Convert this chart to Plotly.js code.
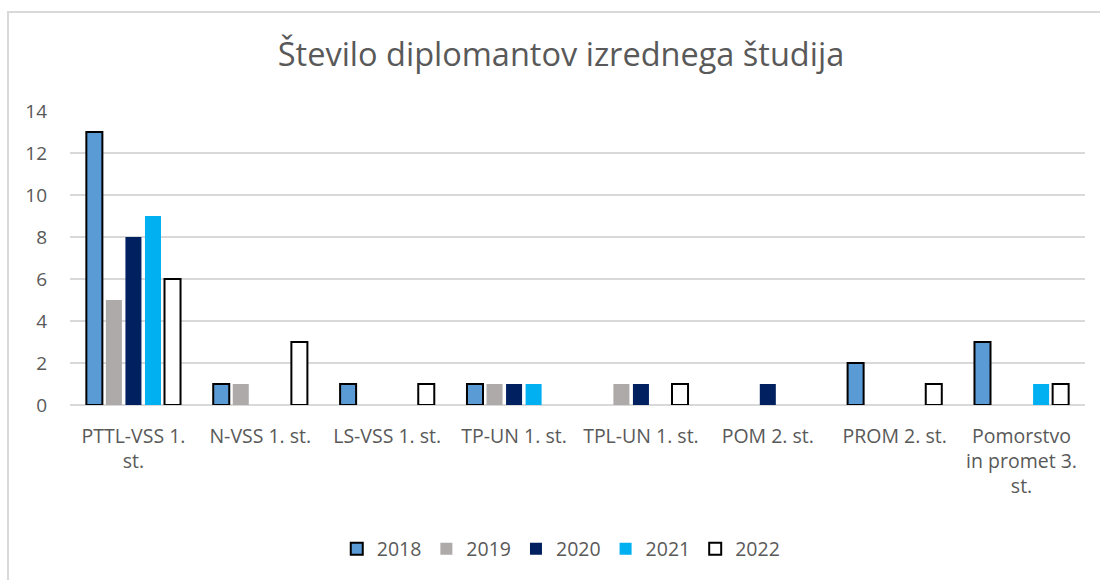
<!DOCTYPE html>
<html>
<head>
<meta charset="utf-8">
<script src="https://cdn.plot.ly/plotly-3.0.1.min.js"></script>
<style>
html,body{margin:0;padding:0;background:#fff;}
#wrap{position:relative;width:1100px;height:580px;}
#chart{width:1100px;height:580px;}
#frame{position:absolute;left:7px;top:11px;width:1100px;height:600px;border-left:2px solid #d9d9d9;border-top:2px solid #d9d9d9;pointer-events:none;}
</style>
</head>
<body>
<div id="wrap"><div id="chart"></div><div id="frame"></div></div>
<script>
const categories = ["PTTL-VSS 1.<br>st.", "N-VSS 1. st.", "LS-VSS 1. st.", "TP-UN 1. st.", "TPL-UN 1. st.", "POM 2. st.", "PROM 2. st.", "Pomorstvo<br>in promet 3.<br>st."];
const years = ["2018", "2019", "2020", "2021", "2022"];
const v2018 = [13, 1, 1, 1, null, null, 2, 3];
const v2019 = [5, 1, null, 1, 1, null, null, null];
const v2020 = [8, null, null, 1, 1, 1, null, null];
const v2021 = [9, null, null, 1, null, null, null, 1];
const v2022 = [6, 3, 1, null, 1, null, 1, 1];
const series = [v2018, v2019, v2020, v2021, v2022];
const fills = ["#5b9bd5", "#aeaaaa", "#002060", "#00b0f0", "#ffffff"];
const lines = ["#000000", "#aeaaaa", "#002060", "#00b0f0", "#000000"];
const lineW = [2, 0, 0, 0, 2];

const traces = series.map((vals, i) => ({
  type: "bar",
  name: years[i],
  x: categories,
  y: vals,
  marker: {color: fills[i], line: {color: lines[i], width: lineW[i]}}
}));

const FONT = "Open Sans, Liberation Sans, sans-serif";
const layout = {
  width: 1100, height: 580,
  margin: {l: 70, r: 15, t: 111, b: 175},
  paper_bgcolor: "#ffffff", plot_bgcolor: "#ffffff",
  font: {family: FONT, color: "#595959", size: 18},
  title: {text: "Število diplomantov izrednega študija", x: 0.51, xanchor: "center", y: 0.905, yanchor: "middle",
          font: {size: 32.5, color: "#595959", family: FONT}},
  barmode: "group",
  bargap: 0.23,
  bargroupgap: 0.18,
  xaxis: {showgrid: false, zeroline: false, showline: false, ticks: "", tickfont: {size: 19.5, color: "#595959"},
          ticklabelstandoff: 17, automargin: false},
  yaxis: {range: [0, 14], dtick: 2, showgrid: true, gridcolor: "#d9d9d9", gridwidth: 1.5, zeroline: true, zerolinecolor: "#d9d9d9", zerolinewidth: 1.5,
          tickfont: {size: 19, color: "#595959"}, ticklabelstandoff: 22, automargin: false, fixedrange: true},
  legend: {orientation: "h", x: 0.484, xanchor: "center", y: -0.49, yanchor: "middle", font: {size: 19.5, color: "#595959"}, itemwidth: 30, traceorder: "normal"},
  showlegend: true
};

Plotly.newPlot("chart", traces, layout, {displayModeBar: false, staticPlot: true});
</script>
</body>
</html>
